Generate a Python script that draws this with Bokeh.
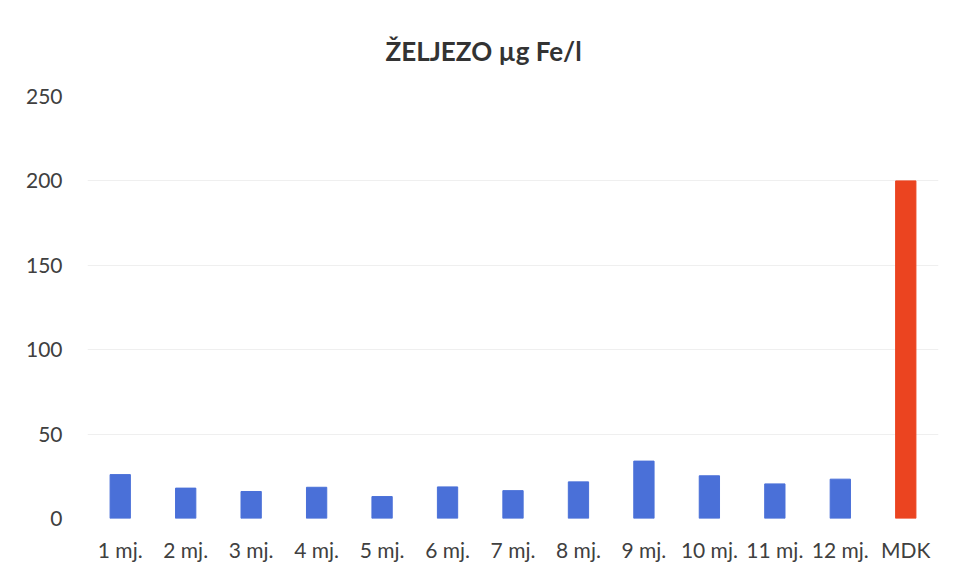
from bokeh.plotting import figure
from bokeh.models import ColumnDataSource, Range1d, FixedTicker
from bokeh.embed import file_html
from bokeh.resources import INLINE

categories = ["1 mj.", "2 mj.", "3 mj.", "4 mj.", "5 mj.", "6 mj.", "7 mj.",
              "8 mj.", "9 mj.", "10 mj.", "11 mj.", "12 mj.", "MDK"]
values = [26, 18, 16, 18.5, 13, 18.7, 16.5, 21.7, 34, 25.3, 20.5, 23.3, 200]
bar_colors = ["#4a70d8"] * 12 + ["#eb4420"]
y_ticks = [0, 50, 100, 150, 200, 250]

src = ColumnDataSource(dict(cat=categories, val=values, color=bar_colors))

p = figure(x_range=categories, y_range=Range1d(0, 250), width=945, height=564,
           output_backend="svg", toolbar_location=None,
           min_border_left=87, min_border_right=7, min_border_top=96,
           min_border_bottom=44)
p.vbar(x="cat", top="val", width=0.31, color="color", source=src)

p.title.text = "ŽELJEZO  µg Fe/l"
p.title.align = "left"
p.title.offset = 298
p.title.standoff = 60
p.title.text_font = "Lato"
p.title.text_font_size = "26px"
p.title.text_font_style = "bold"
p.title.text_color = "#333333"

p.outline_line_color = None
p.background_fill_color = "white"
p.border_fill_color = "white"

p.yaxis.ticker = FixedTicker(ticks=y_ticks)
for ax in (p.xaxis, p.yaxis):
    ax.axis_line_color = None
    ax.major_tick_line_color = None
    ax.minor_tick_line_color = None
    ax.major_label_text_font = "Lato"
    ax.major_label_text_font_size = "21px"
    ax.major_label_text_color = "#404040"
p.xaxis.major_label_standoff = 12
p.yaxis.major_label_standoff = 19

p.xgrid.grid_line_color = None
p.ygrid.grid_line_color = "#efefef"
p.ygrid.grid_line_width = 1

open("out.html", "w").write(file_html(p, INLINE))
